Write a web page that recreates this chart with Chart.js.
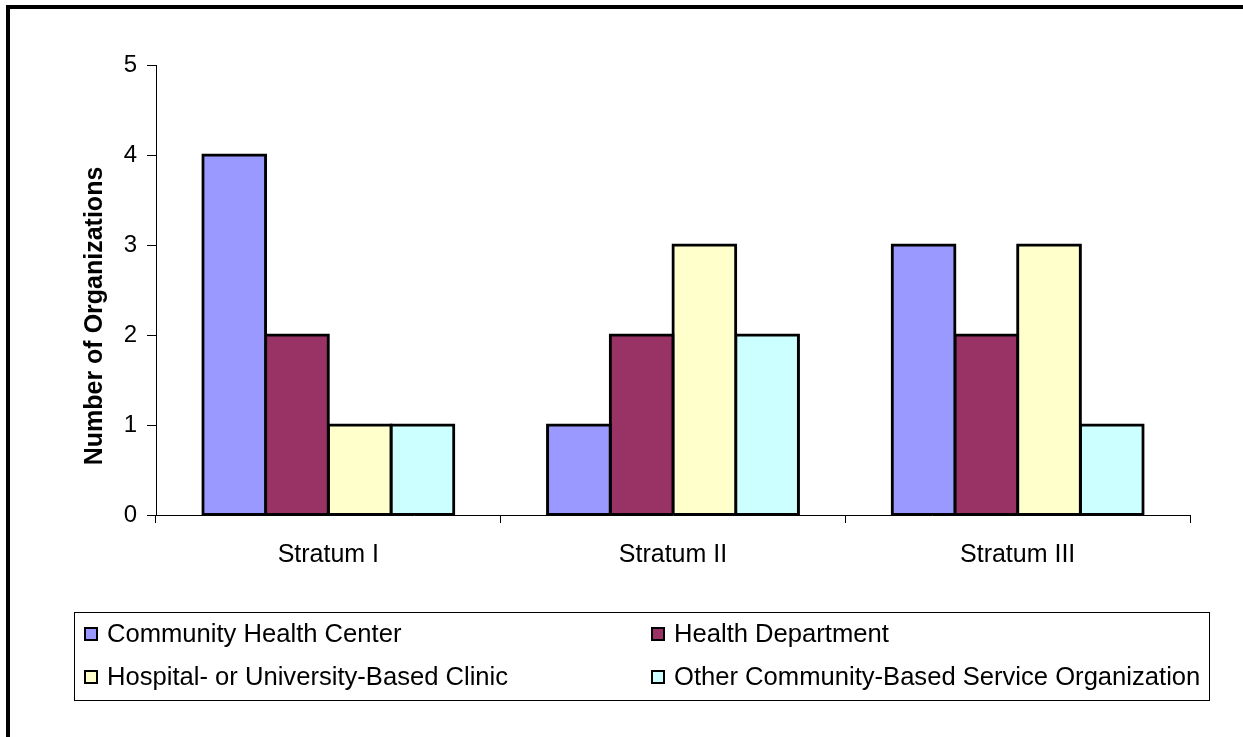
<!DOCTYPE html>
<html>
<head>
<meta charset="utf-8">
<script src="https://cdn.jsdelivr.net/npm/chart.js@4"></script>
<style>
  html, body { margin: 0; padding: 0; background: #fff; }
  #wrap { position: absolute; left: 0; top: 0; width: 1243px; height: 737px; }
  #frame {
    position: absolute; left: 6px; top: 5px; width: 1300px; height: 800px;
    border-left: 4px solid #000; border-top: 4px solid #000;
    pointer-events: none;
  }
</style>
</head>
<body>
<div id="wrap"><canvas id="c"></canvas></div>
<div id="frame"></div>
<script>
// Organizations per stratum, by organization type
const categories = ['Stratum I', 'Stratum II', 'Stratum III'];
const seriesLabels = [
  'Community Health Center',
  'Health Department',
  'Hospital- or University-Based Clinic',
  'Other Community-Based Service Organization'
];
const communityHealthCenter = [4, 1, 3];
const healthDepartment = [2, 2, 2];
const hospitalClinic = [1, 3, 3];
const otherServiceOrg = [1, 2, 1];
const seriesColors = ['#9999FF', '#993366', '#FFFFCC', '#CCFFFF'];
const yAxisTitle = 'Number of Organizations';
const yMin = 0, yMax = 5, yStep = 1;

const FONT = '"Liberation Sans", Arial, sans-serif';

const seriesValues = [communityHealthCenter, healthDepartment, hospitalClinic, otherServiceOrg];

// Vertical axis title and a two-column boxed legend below the plot
const extrasPlugin = {
  id: 'extras',
  afterDraw(chart) {
    const ctx = chart.ctx;
    const area = chart.chartArea;
    ctx.save();
    // axis title
    ctx.translate(95, (area.top + area.bottom) / 2 + 26);
    ctx.rotate(-Math.PI / 2);
    ctx.font = 'bold 25px ' + FONT;
    ctx.fillStyle = '#000';
    ctx.textAlign = 'center';
    ctx.textBaseline = 'middle';
    ctx.fillText(yAxisTitle, 0, 0);
    ctx.restore();

    // legend box
    ctx.save();
    ctx.strokeStyle = '#000';
    ctx.lineWidth = 1;
    ctx.strokeRect(74.5, 612.5, 1135, 88);
    const colX = [85, 652];
    const rowY = [634, 677];
    ctx.font = '25.6px ' + FONT;
    ctx.textBaseline = 'middle';
    ctx.textAlign = 'left';
    chart.data.datasets.forEach((ds, i) => {
      const x = colX[i % 2];
      const y = rowY[Math.floor(i / 2)];
      ctx.fillStyle = ds.backgroundColor;
      ctx.fillRect(x, y - 6, 12, 12);
      ctx.lineWidth = 2;
      ctx.strokeStyle = '#000';
      ctx.strokeRect(x, y - 6, 12, 12);
      ctx.fillStyle = '#000';
      ctx.fillText(ds.label, x + 22, y + 1);
    });
    ctx.restore();
  }
};

new Chart(document.getElementById('c'), {
  type: 'bar',
  data: {
    labels: categories,
    datasets: seriesLabels.map((label, i) => ({
      label: label,
      data: seriesValues[i],
      backgroundColor: seriesColors[i],
      borderColor: '#000',
      borderWidth: 3,
      borderSkipped: false,
      inflateAmount: 1.5,
      categoryPercentage: 0.728,
      barPercentage: 1.0
    }))
  },
  options: {
    responsive: true,
    maintainAspectRatio: false,
    animation: false,
    layout: { padding: { top: 65, right: 53, bottom: 162, left: 0 } },
    plugins: {
      legend: { display: false },
      tooltip: { enabled: false }
    },
    scales: {
      x: {
        grid: {
          offset: true,
          drawOnChartArea: false,
          drawTicks: true,
          tickLength: 8,
          color: '#000',
          lineWidth: 1
        },
        border: { display: true, color: '#000', width: 1 },
        ticks: {
          color: '#000',
          font: { family: FONT, size: 25 },
          padding: 17,
          maxRotation: 0
        },
        afterFit(scale) { scale.height = 60; }
      },
      y: {
        min: yMin,
        max: yMax,
        ticks: {
          stepSize: yStep,
          color: '#000',
          font: { family: FONT, size: 24 },
          padding: 10
        },
        grid: {
          drawOnChartArea: false,
          drawTicks: true,
          tickLength: 9,
          color: '#000',
          lineWidth: 1
        },
        border: { display: true, color: '#000', width: 1 },
        afterFit(scale) { scale.width = 156; }
      }
    }
  },
  plugins: [extrasPlugin]
});
</script>
</body>
</html>
